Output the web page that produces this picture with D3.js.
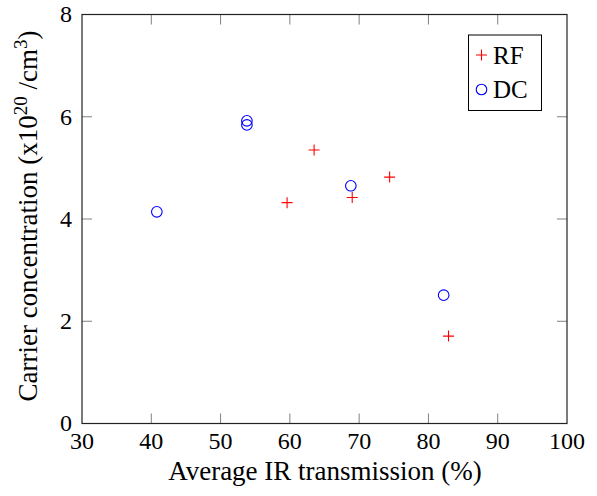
<!DOCTYPE html>
<html>
<head>
<meta charset="utf-8">
<script src="https://cdn.jsdelivr.net/npm/d3@7"></script>
<style>
  body { margin: 0; background: #fff; }
  text { font-family: "Liberation Serif", "DejaVu Serif", serif; fill: #000; }
</style>
</head>
<body>
<div id="chart"></div>
<script>
// values
var rfX = [59.6, 63.5, 69.0, 74.4, 82.9];
var rfY = [4.32, 5.35, 4.42, 4.82, 1.71];
var dcX = [40.8, 53.8, 53.8, 68.8, 82.2];
var dcY = [4.14, 5.92, 5.84, 4.65, 2.51];
var xTicks = [30, 40, 50, 60, 70, 80, 90, 100];
var yTicks = [0, 2, 4, 6, 8];

var W = 597, H = 496;
var margin = { top: 14.5, right: 30, bottom: 72.5, left: 82 };
var width = 567 - margin.left;
var height = 423.5 - margin.top;

var svg = d3.select("#chart").append("svg")
  .attr("width", W).attr("height", H);
var g = svg.append("g")
  .attr("transform", "translate(" + margin.left + "," + margin.top + ")");

var x = d3.scaleLinear().domain([30, 100]).range([0, width]);
var y = d3.scaleLinear().domain([0, 8]).range([height, 0]);

var tl = 10;
// inward ticks on all four sides
g.selectAll(".tb").data(xTicks.slice(1, -1)).enter().append("line")
  .attr("x1", d => x(d)).attr("x2", d => x(d))
  .attr("y1", height).attr("y2", height - tl)
  .attr("stroke", "#808080");
g.selectAll(".tt").data(xTicks.slice(1, -1)).enter().append("line")
  .attr("x1", d => x(d)).attr("x2", d => x(d))
  .attr("y1", 0).attr("y2", tl)
  .attr("stroke", "#808080");
g.selectAll(".tl").data(yTicks.slice(1, -1)).enter().append("line")
  .attr("x1", 0).attr("x2", tl)
  .attr("y1", d => y(d)).attr("y2", d => y(d))
  .attr("stroke", "#808080");
g.selectAll(".tr").data(yTicks.slice(1, -1)).enter().append("line")
  .attr("x1", width).attr("x2", width - tl)
  .attr("y1", d => y(d)).attr("y2", d => y(d))
  .attr("stroke", "#808080");

g.append("rect").attr("x", 0).attr("y", 0)
  .attr("width", width).attr("height", height)
  .attr("fill", "none").attr("stroke", "#222").attr("stroke-width", 1.2);

// tick labels
g.selectAll(".xl").data(xTicks).enter().append("text")
  .attr("x", d => x(d)).attr("y", 449 - margin.top)
  .attr("text-anchor", "middle").attr("font-size", 24)
  .text(d => d);
g.selectAll(".yl").data(yTicks).enter().append("text")
  .attr("x", -10).attr("y", d => y(d)).attr("dy", "0.33em")
  .attr("text-anchor", "end").attr("font-size", 24)
  .text(d => d);

// axis titles
svg.append("text")
  .attr("x", 325).attr("y", 480)
  .attr("text-anchor", "middle").attr("font-size", 27)
  .text("Average IR transmission (%)");

var yt = svg.append("text")
  .attr("transform", "translate(37,216) rotate(-90)")
  .attr("text-anchor", "middle").attr("font-size", 27);
yt.append("tspan").text("Carrier concentration (x10");
yt.append("tspan").attr("dy", -10).attr("font-size", 19).text("20");
yt.append("tspan").attr("dy", 10).text(" /cm");
yt.append("tspan").attr("dy", -10).attr("font-size", 19).text("3");
yt.append("tspan").attr("dy", 10).text(")");

// markers
function plus(sel, cx, cy) {
  sel.append("path")
    .attr("d", "M" + (cx - 5.5) + "," + cy + "H" + (cx + 5.5) + "M" + cx + "," + (cy - 5.5) + "V" + (cy + 5.5))
    .attr("stroke", "#ff0000").attr("stroke-width", 1.1).attr("fill", "none");
}
rfX.forEach(function(v, i) { plus(g, x(v), y(rfY[i])); });

g.selectAll(".dc").data(dcX).enter().append("circle")
  .attr("cx", d => x(d)).attr("cy", (d, i) => y(dcY[i]))
  .attr("r", 5.3)
  .attr("fill", "none").attr("stroke", "#0000ff").attr("stroke-width", 1.1);

// legend
var lg = svg.append("g");
lg.append("rect").attr("x", 468.5).attr("y", 35).attr("width", 73).attr("height", 75.5)
  .attr("fill", "#fff").attr("stroke", "#000").attr("stroke-width", 1);
plus(lg, 481.5, 55);
lg.append("circle").attr("cx", 481.5).attr("cy", 89.5).attr("r", 5.3)
  .attr("fill", "none").attr("stroke", "#0000ff").attr("stroke-width", 1.1);
lg.append("text").attr("x", 493).attr("y", 55).attr("dy", "0.35em")
  .attr("font-size", 25).text("RF");
lg.append("text").attr("x", 493).attr("y", 89.5).attr("dy", "0.35em")
  .attr("font-size", 25).text("DC");
</script>
</body>
</html>
